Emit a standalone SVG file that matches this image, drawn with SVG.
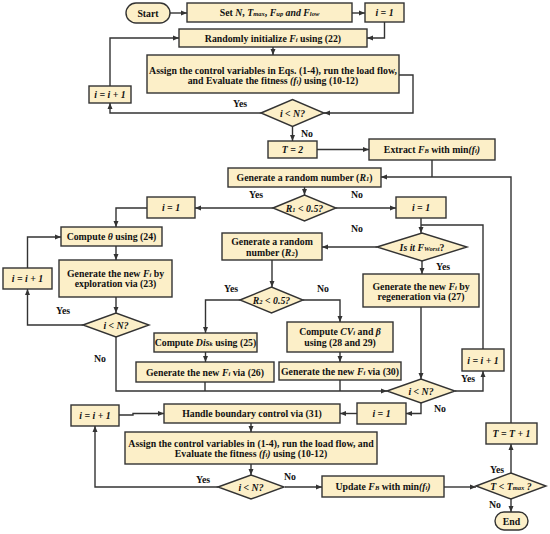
<svg xmlns="http://www.w3.org/2000/svg" width="550" height="534" viewBox="0 0 550 534">
<defs>
<marker id="a" markerWidth="6" markerHeight="6" refX="6" refY="3" orient="auto" markerUnits="userSpaceOnUse">
<path d="M0,0.5 L6,3 L0,5.5 z" fill="#333"/>
</marker>
<style>
.n{fill:#FCEFC8;stroke:#333;stroke-width:1.4}
.c{fill:none;stroke:#333;stroke-width:1.4;marker-end:url(#a)}
.l{fill:none;stroke:#333;stroke-width:1.4}
text{font-family:"Liberation Serif",serif;font-weight:bold;font-size:9.8px;text-anchor:middle;fill:#111}
.i{font-style:italic}
.s{font-size:6.5px;font-style:italic}
</style>
</defs>
<rect width="550" height="534" fill="#fff"/>
<g id="connectors">
<path class="c" d="M170,13 H187"/>
<path class="c" d="M352,13 H365"/>
<path class="c" d="M384.5,22 V38 H367"/>
<path class="c" d="M273,47 V55"/>
<path class="c" d="M399,75 H413 V113 H324"/>
<path class="c" d="M261,113 H110 V103"/>
<path class="c" d="M110,86 V38 H179"/>
<path class="c" d="M292.5,126.5 V141"/>
<path class="c" d="M317,149.5 H369"/>
<path class="l" d="M432,160 V177"/>
<path class="c" d="M511,423 V177 H381"/>
<path class="c" d="M304.5,187 V195"/>
<path class="c" d="M273,208 H195"/>
<path class="c" d="M336,208 H396"/>
<path class="c" d="M147,208 H116 V227"/>
<path class="c" d="M116,246 V260"/>
<path class="c" d="M116,297 V313"/>
<path class="c" d="M83,325 H27.5 V289"/>
<path class="c" d="M27.5,268 V237 H61"/>
<path class="c" d="M116,337 V391 H387"/>
<path class="l" d="M205,382 V391"/>
<path class="l" d="M340,380 V391"/>
<path class="c" d="M205.5,352 V362"/>
<path class="c" d="M240,300 H205.5 V333"/>
<path class="c" d="M303,300 H340 V322"/>
<path class="c" d="M340,352 V362"/>
<path class="c" d="M272,260 V287"/>
<path class="c" d="M377,247 H322"/>
<path class="c" d="M421,218 V233"/>
<path class="c" d="M422,261 V274"/>
<path class="c" d="M421,307 V379"/>
<path class="c" d="M455,391 H483 V371"/>
<path class="l" d="M483,349 V225 H421"/>
<path class="c" d="M421,403 V413.5 H406"/>
<path class="c" d="M357,413.5 H340"/>
<path class="c" d="M119,415 H133 V413.5 H164"/>
<path class="c" d="M251,423 V432"/>
<path class="c" d="M251,464 V475"/>
<path class="c" d="M218,487 H95 V426"/>
<path class="c" d="M285,487 H322"/>
<path class="c" d="M444,487 H476"/>
<path class="c" d="M511,473 V444"/>
<path class="c" d="M511,499 V512"/>
</g>
<g id="labels">
<text x="240" y="106.5">Yes</text>
<text x="307" y="136.5">No</text>
<text x="256" y="197.5">Yes</text>
<text x="357" y="197.5">No</text>
<text x="357" y="231.5">No</text>
<text x="443" y="269.5">Yes</text>
<text x="231" y="291.5">Yes</text>
<text x="323" y="291.5">No</text>
<text x="63" y="313.5">Yes</text>
<text x="100" y="361.5">No</text>
<text x="468" y="381.5">Yes</text>
<text x="440" y="411.5">No</text>
<text x="203" y="482.5">Yes</text>
<text x="290" y="479.5">No</text>
<text x="497" y="472.5">Yes</text>
<text x="495" y="507.5">No</text>
</g>
<g id="start"><rect class="n" x="126" y="3" width="44" height="20" rx="10"/><text x="148" y="16.5">Start</text></g>
<g id="set"><rect class="n" x="187" y="3" width="165" height="19"/><text x="269.5" y="16">Set <tspan class="i">N</tspan>, <tspan class="i">T</tspan><tspan class="s">max</tspan>, <tspan class="i">F</tspan><tspan class="s">up</tspan>  <tspan class="i">and F</tspan><tspan class="s">low</tspan></text></g>
<g id="i1a"><rect class="n" x="365" y="3" width="39" height="19"/><text class="i" x="384.5" y="16">i = 1</text></g>
<g id="init"><rect class="n" x="179" y="29" width="188" height="18"/><text x="273" y="41.5">Randomly initialize <tspan class="i">F</tspan><tspan class="s">i</tspan> using (22)</text></g>
<g id="assign1"><rect class="n" x="147" y="55" width="252" height="38"/><text x="273" y="73.5">Assign the control variables in Eqs. (1-4), run the load flow,</text><text x="273" y="83.5">and Evaluate the fitness <tspan class="i">(f</tspan><tspan class="s">i</tspan><tspan class="i">)</tspan> using (10-12)</text></g>
<g id="d1"><path class="n" d="M261,113 L292.5,99.5 L324,113 L292.5,126.5 z"/><text class="i" x="292.5" y="116.5">i &lt; N?</text></g>
<g id="inc1"><rect class="n" x="89" y="86" width="42" height="17"/><text class="i" x="110" y="98">i = i + 1</text></g>
<g id="t2"><rect class="n" x="268" y="141" width="49" height="17"/><text class="i" x="292.5" y="153">T = 2</text></g>
<g id="extract"><rect class="n" x="369" y="139" width="126" height="21"/><text x="432" y="153">Extract <tspan class="i">F</tspan><tspan class="s">B</tspan> with min<tspan class="i">(f</tspan><tspan class="s">i</tspan><tspan class="i">)</tspan></text></g>
<g id="genr1"><rect class="n" x="228" y="168" width="153" height="19"/><text x="304.5" y="181">Generate a random number (<tspan class="i">R</tspan><tspan class="s">1</tspan>)</text></g>
<g id="dr1"><path class="n" d="M273,208 L304.5,195 L336,208 L304.5,221 z"/><text class="i" x="304.5" y="211.5">R<tspan class="s">1</tspan> &lt; 0.5?</text></g>
<g id="i1l"><rect class="n" x="147" y="197" width="48" height="21"/><text class="i" x="171" y="211">i = 1</text></g>
<g id="i1r"><rect class="n" x="396" y="197" width="50" height="21"/><text class="i" x="421" y="211">i = 1</text></g>
<g id="theta"><rect class="n" x="61" y="227" width="101" height="19"/><text x="111.5" y="240">Compute <tspan class="i">θ</tspan> using (24)</text></g>
<g id="explore"><rect class="n" x="59" y="260" width="113" height="37"/><text x="115.5" y="276.5">Generate the new <tspan class="i">F</tspan><tspan class="s">i</tspan>  by</text><text x="115.5" y="287">exploration via (23)</text></g>
<g id="dl"><path class="n" d="M83,325 L116,313 L149,325 L116,337 z"/><text class="i" x="116" y="328.5">i &lt; N?</text></g>
<g id="incl"><rect class="n" x="3" y="268" width="49" height="21"/><text class="i" x="27.5" y="282">i = i + 1</text></g>
<g id="genr2"><rect class="n" x="222" y="233" width="100" height="27"/><text x="272" y="245">Generate a random</text><text x="272" y="255.5">number (<tspan class="i">R</tspan><tspan class="s">2</tspan>)</text></g>
<g id="worst"><path class="n" d="M377,247 L422,233 L467,247 L422,261 z"/><text class="i" x="422" y="250.5">Is it  F<tspan class="s">Worst</tspan><tspan font-style="normal">?</tspan></text></g>
<g id="dr2"><path class="n" d="M240,300 L271.5,287 L303,300 L271.5,313 z"/><text class="i" x="271.5" y="303.5">R<tspan class="s">2</tspan> &lt; 0.5?</text></g>
<g id="regen"><rect class="n" x="363" y="274" width="116" height="33"/><text x="421" y="289.5">Generate the new <tspan class="i">F</tspan><tspan class="s">i</tspan>  by</text><text x="421" y="300">regeneration via (27)</text></g>
<g id="dis"><rect class="n" x="154" y="333" width="103" height="19"/><text x="205.5" y="346">Compute <tspan class="i">Dis</tspan><tspan class="s">k</tspan> using (25)</text></g>
<g id="cv"><rect class="n" x="287" y="322" width="106" height="30"/><text x="340" y="334.5">Compute <tspan class="i">CV</tspan><tspan class="s">i</tspan> and <tspan class="i">β</tspan></text><text x="340" y="345.5">using (28 and 29)</text></g>
<g id="g26"><rect class="n" x="136" y="362" width="138" height="20"/><text x="205" y="375.5">Generate the new <tspan class="i">F</tspan><tspan class="s">i</tspan>  via (26)</text></g>
<g id="g30"><rect class="n" x="279" y="362" width="122" height="18"/><text x="340" y="374.5">Generate the new <tspan class="i">F</tspan><tspan class="s">i</tspan>  via (30)</text></g>
<g id="dr"><path class="n" d="M387,391 L421,379 L455,391 L421,403 z"/><text class="i" x="421" y="394.5">i &lt; N?</text></g>
<g id="incr"><rect class="n" x="462" y="349" width="42" height="22"/><text class="i" x="483" y="363.5">i = i + 1</text></g>
<g id="i1b"><rect class="n" x="357" y="403" width="49" height="21"/><text class="i" x="381.5" y="417">i = 1</text></g>
<g id="handle"><rect class="n" x="164" y="404" width="176" height="19"/><text x="252" y="417">Handle boundary control via (31)</text></g>
<g id="incb"><rect class="n" x="71" y="405" width="48" height="21"/><text class="i" x="95" y="419">i = i + 1</text></g>
<g id="assign2"><rect class="n" x="125" y="432" width="252" height="32"/><text x="251" y="446.5">Assign the control variables in (1-4), run the load flow, and</text><text x="251" y="456.5">Evaluate the fitness <tspan class="i">(f</tspan><tspan class="s">i</tspan><tspan class="i">)</tspan> using (10-12)</text></g>
<g id="db"><path class="n" d="M218,487 L251,475 L284,487 L251,499 z"/><text class="i" x="251" y="490.5">i &lt; N?</text></g>
<g id="update"><rect class="n" x="322" y="476" width="122" height="21"/><text x="383" y="490">Update <tspan class="i">F</tspan><tspan class="s">B</tspan> with min<tspan class="i">(f</tspan><tspan class="s">i</tspan><tspan class="i">)</tspan></text></g>
<g id="dt"><path class="n" d="M476,486 L511,473 L546,486 L511,499 z"/><text class="i" x="511" y="489.5">T &lt; T<tspan class="s">max</tspan> ?</text></g>
<g id="tinc"><rect class="n" x="486" y="423" width="51" height="21"/><text class="i" x="511.5" y="437">T = T + 1</text></g>
<g id="end"><rect class="n" x="495" y="512" width="33" height="18" rx="9"/><text x="511.5" y="524.5">End</text></g>
</svg>
